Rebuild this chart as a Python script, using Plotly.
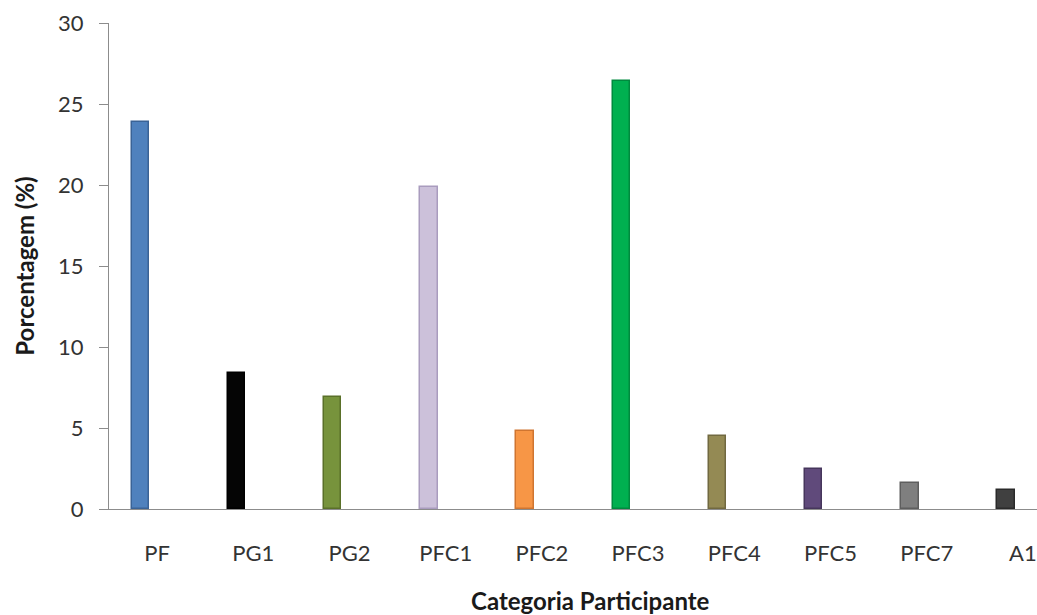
import plotly.graph_objects as go

categories = ["PF", "PG1", "PG2", "PFC1", "PFC2", "PFC3", "PFC4", "PFC5", "PFC7", "A1"]
values = [23.9, 8.4, 6.9, 19.9, 4.8, 26.45, 4.5, 2.45, 1.6, 1.15]
bar_colors = ["#4F81BD", "#050505", "#77933C", "#CCC1DA", "#F79646",
              "#00B050", "#948A54", "#604A7B", "#7F7F7F", "#404040"]
edge_colors = ["#3A6396", "#000000", "#5A7029", "#A99CBE", "#D07530",
               "#008A3E", "#716940", "#46365C", "#5E5E5E", "#2A2A2A"]
y_ticks = [0, 5, 10, 15, 20, 25, 30]

W, H = 1037, 615
L, R, T, B = 109, 0, 23, 106
plot_w = W - L - R
plot_h = H - T - B
cat_w = 96.2

fig = go.Figure()
fig.add_trace(go.Bar(
    x=categories, y=values,
    offset=-0.265, width=0.18,
    marker=dict(color=bar_colors, line=dict(color=edge_colors, width=1.5)),
    showlegend=False,
))

font_family = "Lato, 'Open Sans', sans-serif"
fig.update_layout(
    width=W, height=H,
    margin=dict(l=L, r=R, t=T, b=B, pad=0),
    paper_bgcolor="white", plot_bgcolor="white",
    font=dict(family=font_family, size=22, color="#333333"),
    bargap=0,
    xaxis=dict(
        type="category",
        range=[-0.5, -0.5 + plot_w / cat_w],
        showline=True, linecolor="#8C8C8C", linewidth=1.2,
        ticks="", showgrid=False, zeroline=False,
        tickfont=dict(size=22, color="#333333"),
        ticklabelstandoff=24,
    ),
    yaxis=dict(
        range=[0, 30], tickvals=y_ticks,
        showline=True, linecolor="#8C8C8C", linewidth=1.2,
        ticks="outside", ticklen=9, tickcolor="#8C8C8C", tickwidth=1.2,
        showgrid=False, zeroline=False,
        tickfont=dict(size=22, color="#333333"),
        ticklabelstandoff=11,
        title=dict(text="<b>Porcentagem (%)</b>", font=dict(size=24, color="#1a1a1a"), standoff=16),
    ),
    annotations=[dict(
        text="<b>Categoria Participante</b>",
        xref="paper", yref="paper",
        x=(5 * cat_w) / plot_w, y=-(600 - (H - B)) / plot_h,
        xanchor="center", yanchor="middle", showarrow=False,
        font=dict(size=24, color="#1a1a1a"),
    )],
)

fig.write_html(
    "out.html",
    config={"displayModeBar": False},
    post_script="document.body.style.margin='0';document.body.style.overflow='hidden';",
)
